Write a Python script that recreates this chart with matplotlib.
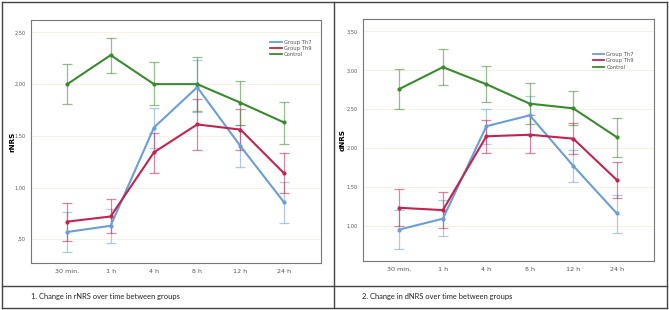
import matplotlib.pyplot as plt
from matplotlib.lines import Line2D

# time points
times = ['30 min.', '1 h', '4 h', '8 h', '12 h', '24 h']
groups = ['Group Th7', 'Group Th9', 'Control']

# rNRS means and error bar limits
r_th7 = [0.57, 0.63, 1.58, 1.97, 1.40, 0.86]
r_th7_lo = [0.38, 0.46, 1.38, 1.73, 1.20, 0.66]
r_th7_hi = [0.76, 0.79, 1.77, 2.23, 1.60, 1.05]
r_th9 = [0.67, 0.72, 1.34, 1.61, 1.56, 1.14]
r_th9_lo = [0.48, 0.56, 1.14, 1.36, 1.36, 0.95]
r_th9_hi = [0.85, 0.89, 1.53, 1.86, 1.76, 1.33]
r_ctl = [2.00, 2.28, 2.00, 2.00, 1.82, 1.63]
r_ctl_lo = [1.81, 2.11, 1.80, 1.74, 1.60, 1.42]
r_ctl_hi = [2.19, 2.45, 2.21, 2.26, 2.03, 1.83]

# dNRS means and error bar limits
d_th7 = [0.95, 1.09, 2.28, 2.42, 1.77, 1.16]
d_th7_lo = [0.70, 0.87, 2.05, 2.17, 1.56, 0.91]
d_th7_hi = [1.20, 1.33, 2.50, 2.67, 1.98, 1.40]
d_th9 = [1.23, 1.20, 2.15, 2.17, 2.12, 1.59]
d_th9_lo = [0.99, 0.97, 1.93, 1.93, 1.92, 1.35]
d_th9_hi = [1.47, 1.43, 2.36, 2.42, 2.32, 1.82]
d_ctl = [2.76, 3.04, 2.82, 2.57, 2.51, 2.14]
d_ctl_lo = [2.50, 2.81, 2.59, 2.31, 2.29, 1.88]
d_ctl_hi = [3.01, 3.27, 3.05, 2.83, 2.73, 2.39]

r_ticks = [0.5, 1.0, 1.5, 2.0, 2.5]
r_ticklabels = [',50', '1,00', '1,50', '2,00', '2,50']
d_ticks = [1.0, 1.5, 2.0, 2.5, 3.0, 3.5]
d_ticklabels = ['1,00', '1,50', '2,00', '2,50', '3,00', '3,50']

colors = ['#6a9fd6', '#c0254f', '#3a8a2e']

W, H = 669, 310
fig = plt.figure(figsize=(W / 100, H / 100), dpi=100)


def px_axes(x0, y0, x1, y1):
    return fig.add_axes([x0 / W, 1 - y1 / H, (x1 - x0) / W, (y1 - y0) / H])


def draw_panel(ax, series, ticks, ticklabels, ylim, ylabel, label_x, legend_pos):
    x = list(range(len(times)))
    for (m, lo, hi), c in zip(series, colors):
        yerr = [[a - b for a, b in zip(m, lo)], [b - a for a, b in zip(m, hi)]]
        ax.errorbar(x, m, yerr=yerr, fmt='none', ecolor=c, alpha=0.55,
                    elinewidth=0.9, capsize=3.8, capthick=0.9, zorder=2)
        ax.plot(x, m, color=c, lw=1.5, marker='o', markersize=2.0, zorder=3)
    ax.set_xlim(-0.84, 5.86)
    ax.set_ylim(*ylim)
    ax.set_xticks(x)
    ax.set_xticklabels(times, fontsize=4.6, color='#555555')
    ax.set_yticks(ticks)
    ax.set_yticklabels(ticklabels, fontsize=3.6, color='#555555')
    ax.tick_params(length=0, pad=4)
    ax.grid(axis='y', color='#f2f0dc', lw=0.6, zorder=0)
    ax.set_axisbelow(True)
    ax.set_ylabel(ylabel, fontsize=5.2, fontweight='bold')
    ax.yaxis.set_label_coords(label_x, 0.5)
    for s in ax.spines.values():
        s.set_color('#777777')
        s.set_linewidth(0.8)
    handles = [Line2D([], [], color=c, lw=1.3) for c in colors]
    ax.legend(handles, groups, loc='upper left', bbox_to_anchor=legend_pos,
              frameon=False, fontsize=3.8, handlelength=2.2, handletextpad=0.4,
              labelspacing=0.25, borderpad=0, labelcolor='#555555')


ax1 = px_axes(31, 20, 321, 263)
draw_panel(ax1, [(r_th7, r_th7_lo, r_th7_hi), (r_th9, r_th9_lo, r_th9_hi),
                 (r_ctl, r_ctl_lo, r_ctl_hi)],
           r_ticks, r_ticklabels, (0.27, 2.62), 'rNRS', -0.055, (0.815, 0.93))

ax2 = px_axes(363, 19, 654, 261)
draw_panel(ax2, [(d_th7, d_th7_lo, d_th7_hi), (d_th9, d_th9_lo, d_th9_hi),
                 (d_ctl, d_ctl_lo, d_ctl_hi)],
           d_ticks, d_ticklabels, (0.545, 3.66), 'dNRS', -0.058, (0.78, 0.875))

# table borders
border = dict(color='#444444', lw=1.0, transform=fig.transFigure)
def hline(y, x0=2, x1=667):
    fig.add_artist(Line2D([x0 / W, x1 / W], [1 - y / H, 1 - y / H], **border))
def vline(x, y0=2, y1=308):
    fig.add_artist(Line2D([x / W, x / W], [1 - y0 / H, 1 - y1 / H], **border))

hline(2)
hline(286)
hline(308)
vline(2)
vline(334)
vline(667)

fig.text(31 / W, 1 - 296 / H, '1. Change in rNRS over time between groups',
         fontsize=5.4, family='Lato', va='center', color='#222222')
fig.text(362 / W, 1 - 296 / H, '2. Change in dNRS over time between groups',
         fontsize=5.4, family='Lato', va='center', color='#222222')

fig.savefig('out.png', dpi=100)
